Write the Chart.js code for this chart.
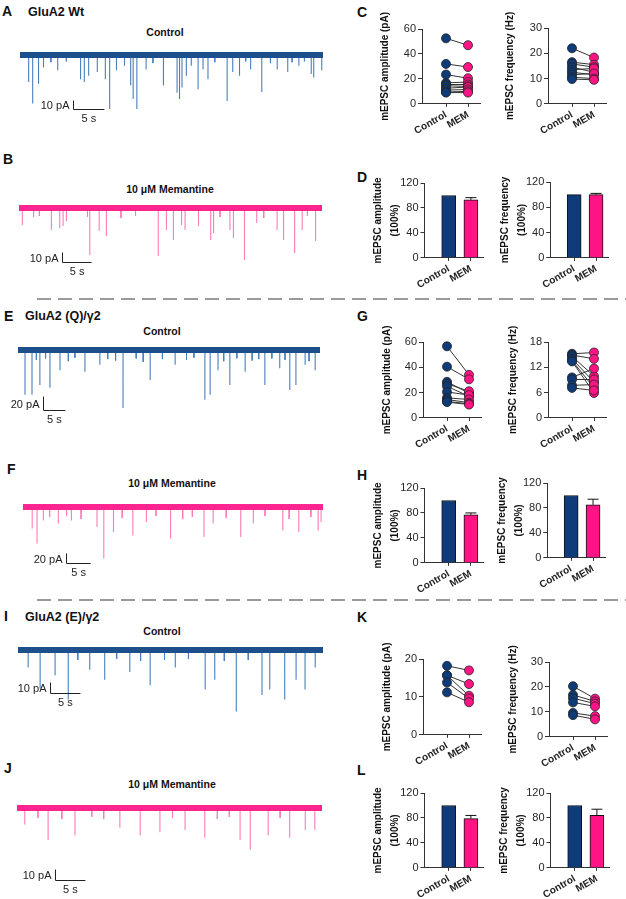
<!DOCTYPE html>
<html>
<head>
<meta charset="utf-8">
<script src="https://cdn.jsdelivr.net/npm/chart.js@4.4.0/dist/chart.umd.min.js"></script>
<style>
  html, body { margin: 0; padding: 0; background: #fff; }
  #page { position: relative; width: 626px; height: 899px; overflow: hidden;
          font-family: Arial, "Liberation Sans", sans-serif; color: #111; }
  .lbl { position: absolute; font-weight: bold; white-space: nowrap; line-height: 1; }
  .letter { font-size: 14px; }
  .head { font-size: 12.5px; }
  .sub { font-size: 10.5px; transform: translateX(-50%); }
  .dash { position: absolute; left: 37px; width: 589px; height: 2px;
          background: repeating-linear-gradient(90deg, #9a9a9a 0 14px, transparent 14px 21px); }
  .box { position: absolute; }
  .box canvas { display: block; }
</style>
</head>
<body>
<div id="page">
  <!-- panel letters and headings -->
  <div class="lbl letter" style="left:2px;top:4px">A</div>
  <div class="lbl head" style="left:28px;top:6px">GluA2 Wt</div>
  <div class="lbl sub" style="left:165px;top:27px">Control</div>
  <div class="lbl letter" style="left:3px;top:152px">B</div>
  <div class="lbl sub" style="left:170px;top:184px">10 μM Memantine</div>
  <div class="lbl letter" style="left:357px;top:5px">C</div>
  <div class="lbl letter" style="left:357px;top:170px">D</div>

  <div class="dash" style="top:298px"></div>

  <div class="lbl letter" style="left:4px;top:309px">E</div>
  <div class="lbl head" style="left:25px;top:310px">GluA2 (Q)/γ2</div>
  <div class="lbl sub" style="left:162px;top:326px">Control</div>
  <div class="lbl letter" style="left:357px;top:309px">G</div>
  <div class="lbl letter" style="left:7px;top:462px">F</div>
  <div class="lbl sub" style="left:172px;top:478px">10 μM Memantine</div>
  <div class="lbl letter" style="left:357px;top:468px">H</div>

  <div class="dash" style="top:599px"></div>

  <div class="lbl letter" style="left:4px;top:609px">I</div>
  <div class="lbl head" style="left:25px;top:611px">GluA2 (E)/γ2</div>
  <div class="lbl sub" style="left:162px;top:626px">Control</div>
  <div class="lbl letter" style="left:357px;top:610px">K</div>
  <div class="lbl letter" style="left:4px;top:761px">J</div>
  <div class="lbl sub" style="left:172px;top:779px">10 μM Memantine</div>
  <div class="lbl letter" style="left:357px;top:763px">L</div>

  <!-- traces -->
  <div class="box" id="trA"><canvas></canvas></div>
  <div class="box" id="trB"><canvas></canvas></div>
  <div class="box" id="trE"><canvas></canvas></div>
  <div class="box" id="trF"><canvas></canvas></div>
  <div class="box" id="trI"><canvas></canvas></div>
  <div class="box" id="trJ"><canvas></canvas></div>

  <!-- summary plots -->
  <div class="box" id="cAmp"><canvas width="140" height="150"></canvas></div>
  <div class="box" id="cFreq"><canvas width="140" height="150"></canvas></div>
  <div class="box" id="dAmp"><canvas width="140" height="150"></canvas></div>
  <div class="box" id="dFreq"><canvas width="140" height="150"></canvas></div>
  <div class="box" id="gAmp"><canvas width="140" height="150"></canvas></div>
  <div class="box" id="gFreq"><canvas width="140" height="150"></canvas></div>
  <div class="box" id="hAmp"><canvas width="140" height="150"></canvas></div>
  <div class="box" id="hFreq"><canvas width="140" height="150"></canvas></div>
  <div class="box" id="kAmp"><canvas width="140" height="150"></canvas></div>
  <div class="box" id="kFreq"><canvas width="140" height="150"></canvas></div>
  <div class="box" id="lAmp"><canvas width="140" height="150"></canvas></div>
  <div class="box" id="lFreq"><canvas width="140" height="150"></canvas></div>
</div>

<script>
// ---------- data ----------
const groups = ['Control', 'MEM'];

// C: GluA2 Wt, per cell
const ampCtrlC  = [52.5, 32, 23.5, 16.8, 15.5, 14.5, 12.5, 11, 9.5, 9];
const ampMemC   = [47, 29.5, 20.5, 17.5, 15.5, 14, 13.5, 11.5, 10, 9];
const freqCtrlC = [22, 16.5, 15.8, 14.5, 13.5, 12.5, 11.5, 10.5, 9.8];
const freqMemC  = [18.3, 15.5, 14.5, 12.5, 14, 11.5, 12, 10, 9.5];
// D: normalised (%), mean and SEM
const ampPctD  = [100, 93];   const ampSemD  = [0, 3.5];
const freqPctD = [100, 100];  const freqSemD = [0, 2];

// G: GluA2 (Q)/γ2
const ampCtrlG  = [56.6, 40.5, 28.5, 27, 25, 20.5, 15.8, 14.5, 13, 12.5];
const ampMemG   = [34, 30.5, 19.5, 21, 17, 18, 14.5, 12, 11, 10.5];
const freqCtrlG = [15.2, 14.9, 14.6, 14.0, 13.6, 13.4, 9.6, 9.1, 7.7, 7.1];
const freqMemG  = [15.5, 14.0, 9.9, 8.5, 7.1, 5.9, 11.7, 9.1, 7.9, 6.5];
// H
const ampPctH  = [100, 77];  const ampSemH  = [0, 3];
const freqPctH = [100, 85];  const freqSemH = [0, 9];

// K: GluA2 (E)/γ2
const ampCtrlK  = [18.2, 15.7, 15.7, 13.8, 11.2];
const ampMemK   = [17.0, 13.4, 10.3, 9.6, 8.6];
const freqCtrlK = [20.3, 16.8, 15.5, 13.8, 9.6, 8.7];
const freqMemK  = [15.3, 14.2, 13.3, 12.2, 8.3, 7.0];
// L
const ampPctL  = [100, 79];  const ampSemL  = [0, 5];
const freqPctL = [100, 84];  const freqSemL = [0, 10];

// traces: event times (s) and peak amplitudes (pA); small events listed separately
const trA_t  = [1.4, 2.05, 3.0, 3.8, 6.1, 9.8, 10.4, 11.1, 12.5, 13.8, 14.5, 15.6, 16.9, 17.9, 18.3, 18.9, 20.4, 23.2, 25.4, 25.8, 26.2, 26.9, 27.7, 28.8, 29.6, 30.4, 33.5, 34.4, 35.5, 37.3, 39.1, 41.6, 43.3, 45.1, 47.1, 47.5, 48.8];
const trA_pA = [30, 54, 32, 14, 17, 27, 30, 23, 19, 27, 60, 17, 12, 34, 49, 60, 16, 34, 42, 49, 36, 23, 12, 38, 16, 27, 51, 19, 23, 16, 41, 16, 19, 12, 21, 25, 17];
const trA_smallT  = [5.0, 7.5, 21.5, 31.5, 36.5, 40.5, 44.0, 46.0];
const trA_smallPA = [8, 7, 9, 8, 7, 9, 8, 7];

const trB_t  = [0.57, 5.56, 6.99, 7.57, 8.14, 11.75, 12.15, 13.76, 15.0, 23.9, 25.3, 26.5, 27.9, 28.5, 30.8, 32.9, 33.4, 36.2, 36.8, 38.7, 40.8, 44.3, 45.4, 47.3, 48.6, 50.9];
const trB_pA = [17, 22, 20, 18, 13, 9, 47, 23, 28, 48, 22, 32, 17, 22, 18, 32, 25, 22, 30, 52, 15, 22, 32, 45, 22, 33];
const trB_smallT  = [2.5, 3.5, 17.5, 20.0, 34.5, 42.0, 49.5];
const trB_smallPA = [9, 8, 10, 8, 9, 10, 8];

const trE_t  = [1.6, 3.2, 5.0, 7.3, 9.6, 15.3, 18.7, 24.0, 30.2, 35.9, 42.7, 43.9, 45.7, 48.4, 51.9, 56.4, 59.8, 62.1, 63.5, 65.6, 67.9];
const trE_pA = [64, 64, 50, 54, 29, 31, 21, 83, 43, 21, 71, 64, 29, 50, 31, 50, 26, 57, 50, 21, 29];
const trE_smallT  = [4.2, 6.3, 11.5, 13.0, 20.5, 22.3, 27.0, 28.6, 33.0, 38.5, 40.2, 47.0, 50.0, 53.5, 55.0, 58.0, 61.0, 66.5];
const trE_smallPA = [14, 12, 16, 11, 13, 15, 12, 17, 13, 14, 11, 16, 12, 15, 13, 12, 14, 16];

const trF_t  = [1.9, 2.9, 4.2, 7.3, 10.0, 15.3, 16.7, 18.7, 22.7, 25.5, 30.5, 37.4, 39.3, 45.0, 47.6, 53.7, 57.0, 61.0, 61.6];
const trF_pA = [43, 73, 27, 33, 27, 40, 103, 50, 57, 30, 63, 60, 33, 60, 33, 47, 50, 47, 30];
const trF_smallT  = [5.5, 9.0, 12.0, 20.5, 27.5, 33.0, 35.0, 42.0, 50.0, 55.0, 59.5];
const trF_smallPA = [20, 18, 24, 22, 18, 24, 20, 22, 18, 24, 20];

const trI_t  = [1.7, 3.7, 6.2, 8.4, 12.0, 14.5, 18.7, 22.1, 26.3, 31.3, 32.9, 36.5, 40.8, 42.1, 44.6, 46.5, 48.0, 49.7];
const trI_pA = [16, 35, 23, 45, 18, 27, 20, 32, 16, 36, 27, 56, 41, 36, 45, 27, 36, 16];
const trI_smallT  = [10.0, 16.5, 20.5, 24.5, 28.5, 34.5, 38.5];
const trI_smallPA = [9, 8, 10, 9, 8, 10, 9];

const trJ_t  = [1.3, 5.2, 9.7, 17.2, 20.6, 23.9, 28.1, 31.4, 37.3, 39.0, 42.0, 45.6, 48.2, 49.8];
const trJ_pA = [15, 29, 25, 18, 25, 22, 20, 27, 29, 38, 25, 27, 20, 20];
const trJ_smallT  = [3.5, 7.5, 12.5, 14.5, 26.0, 33.5, 35.5, 44.0];
const trJ_smallPA = [9, 10, 8, 10, 9, 10, 8, 9];

// ---------- styles / layout ----------
const FONT = 'Arial, "Liberation Sans", sans-serif';
const NAVY = '#0f3c79';
const PINK = '#ff1485';
const BLUE_LINE = '#1d4f8d', BLUE_SPIKE = '#4a7fbd';
const PINK_LINE = '#ff2590', PINK_SPIKE = '#ff7cb9';
const AXIS_LEN = 58;                 // px length of the x axis
const X_MIN = -24 / 22, X_MAX = 34 / 22;
const TICK_PAD = 2, TICK_LEN = 4;

Chart.defaults.font.family = FONT;
Chart.defaults.animation = false;

const traceLayout = {
  trA: {top: 40, height: 86, x0: 20, x1: 323, base: 55, pxPerPA: 0.9, T: 49, bar: {x: 73, y: 109, pA: 10, s: 5}, line: BLUE_LINE, spike: BLUE_SPIKE},
  trB: {top: 195, height: 84, x0: 19, x1: 322, base: 208, pxPerPA: 1.0, T: 52, bar: {x: 62, y: 262, pA: 10, s: 5}, line: PINK_LINE, spike: PINK_SPIKE},
  trE: {top: 338, height: 86, x0: 18, x1: 320, base: 350, pxPerPA: 0.7, T: 69, bar: {x: 43, y: 410, pA: 20, s: 5}, line: BLUE_LINE, spike: BLUE_SPIKE},
  trF: {top: 494, height: 86, x0: 23, x1: 323, base: 507, pxPerPA: 0.5, T: 62, bar: {x: 66, y: 563, pA: 20, s: 5}, line: PINK_LINE, spike: PINK_SPIKE},
  trI: {top: 636, height: 78, x0: 18, x1: 323, base: 650, pxPerPA: 1.1, T: 51, bar: {x: 50, y: 693, pA: 10, s: 5}, line: BLUE_LINE, spike: BLUE_SPIKE},
  trJ: {top: 796, height: 100, x0: 17, x1: 322, base: 808, pxPerPA: 1.1, T: 51, bar: {x: 55, y: 880, pA: 10, s: 5}, line: PINK_LINE, spike: PINK_SPIKE}
};

// ---------- plugins ----------
const scaleBar = {
  id: 'scaleBar',
  afterDraw(chart, args, o) {
    if (!o || o.pA === undefined) return;
    const {ctx, scales: {x, y}} = chart;
    const w = x.getPixelForValue(o.s) - x.getPixelForValue(0);
    const h = y.getPixelForValue(0) - y.getPixelForValue(o.pA);
    const cx = o.cx + 0.5, cy = o.cy + 0.5;
    ctx.save();
    ctx.strokeStyle = '#222';
    ctx.lineWidth = 1;
    ctx.beginPath();
    ctx.moveTo(cx, cy - h);
    ctx.lineTo(cx, cy);
    ctx.lineTo(cx + w, cy);
    ctx.stroke();
    ctx.fillStyle = '#222';
    ctx.font = '11px ' + FONT;
    ctx.textBaseline = 'middle';
    ctx.textAlign = 'right';
    ctx.fillText(o.pA + ' pA', cx - 4, cy - h / 2 + 1);
    ctx.textAlign = 'center';
    ctx.fillText(o.s + ' s', cx + w / 2, cy + 9);
    ctx.restore();
  }
};

const errBars = {
  id: 'errBars',
  afterDatasetsDraw(chart) {
    const {ctx} = chart;
    chart.data.datasets.forEach((ds, di) => {
      if (!ds.errors) return;
      chart.getDatasetMeta(di).data.forEach((bar, i) => {
        const e = ds.errors[i];
        if (!e) return;
        const y1 = chart.scales.y.getPixelForValue(ds.data[i].y + e);
        ctx.save();
        ctx.strokeStyle = '#111';
        ctx.lineWidth = 1;
        ctx.beginPath();
        ctx.moveTo(bar.x, bar.y);
        ctx.lineTo(bar.x, y1);
        ctx.moveTo(bar.x - 5.5, y1);
        ctx.lineTo(bar.x + 5.5, y1);
        ctx.stroke();
        ctx.restore();
      });
    });
  }
};

// ---------- traces ----------
function spikePoints(times, amps) {
  const pts = [];
  times.forEach((t, i) => {
    pts.push({x: t, y: 0}, {x: t, y: -amps[i]}, {x: t, y: null});
  });
  return pts;
}

function traceChart(id, times, amps, smallT, smallA) {
  const L = traceLayout[id];
  const box = document.getElementById(id);
  const canvas = box.querySelector('canvas');
  const W = 330;
  canvas.width = W;
  canvas.height = L.height;
  box.style.left = '0px';
  box.style.top = L.top + 'px';
  const span = L.x1 - L.x0;
  new Chart(canvas, {
    type: 'scatter',
    data: {
      datasets: [
        {data: [{x: 0, y: 0}, {x: L.T, y: 0}], showLine: true, borderColor: L.line, borderWidth: 6, pointRadius: 0},
        {data: spikePoints(times, amps), showLine: true, spanGaps: false, borderColor: L.spike, borderWidth: 1.1, pointRadius: 0},
        {data: spikePoints(smallT, smallA), showLine: true, spanGaps: false, borderColor: L.spike, borderWidth: 1, pointRadius: 0}
      ]
    },
    options: {
      responsive: false,
      events: [],
      layout: {padding: 0},
      plugins: {
        legend: {display: false},
        tooltip: {enabled: false},
        scaleBar: {cx: L.bar.x, cy: L.bar.y - L.top, pA: L.bar.pA, s: L.bar.s}
      },
      scales: {
        x: {type: 'linear', display: false, min: -L.x0 / span * L.T, max: (W - L.x0) / span * L.T},
        y: {display: false, min: -(L.top + L.height - L.base) / L.pxPerPA, max: (L.base - L.top) / L.pxPerPA}
      }
    },
    plugins: [scaleBar]
  });
}

traceChart('trA', trA_t, trA_pA, trA_smallT, trA_smallPA);
traceChart('trB', trB_t, trB_pA, trB_smallT, trB_smallPA);
traceChart('trE', trE_t, trE_pA, trE_smallT, trE_smallPA);
traceChart('trF', trF_t, trF_pA, trF_smallT, trF_smallPA);
traceChart('trI', trI_t, trI_pA, trI_smallT, trI_smallPA);
traceChart('trJ', trJ_t, trJ_pA, trJ_smallT, trJ_smallPA);

// ---------- summary plots ----------
function labelWidth(text) {
  const c = document.createElement('canvas').getContext('2d');
  c.font = '11px ' + FONT;
  return c.measureText(text).width;
}

function axesFor(yMax, step, title, gap) {
  const lines = Array.isArray(title) ? title.length : 1;
  const lh = lines > 1 ? 16.5 : 12;
  // distance from axis line to the first title line -> title bottom padding
  const padBottom = gap - (lines - 0.5) * lh - labelWidth(String(yMax)) - 2 * TICK_PAD - TICK_LEN;
  return {
    x: {
      type: 'linear', min: X_MIN, max: X_MAX, offset: false,
      afterBuildTicks: s => { s.ticks = groups.map((g, i) => ({value: i})); },
      ticks: {
        callback: v => groups[v], autoSkip: false, minRotation: 30, maxRotation: 30, padding: 2,
        color: '#222', font: {size: 10, weight: 'bold'}
      },
      grid: {drawOnChartArea: false, drawTicks: true, tickLength: 3, color: '#333', offset: false},
      border: {display: true, color: '#333', width: 1}
    },
    y: {
      min: 0, max: yMax,
      ticks: {stepSize: step, padding: TICK_PAD, color: '#262626', font: {size: 11}},
      grid: {drawOnChartArea: false, drawTicks: true, tickLength: TICK_LEN, color: '#333'},
      border: {display: true, color: '#333', width: 1},
      title: {
        display: true, text: title, color: '#111',
        font: {size: 10, weight: 'bold', lineHeight: lh / 10},
        padding: {top: 4, bottom: padBottom}
      }
    }
  };
}

function place(chart, box, axisX, yTop, yBottom) {
  for (let k = 0; k < 3; k++) {
    const a = chart.chartArea;
    const w = Math.round(chart.width + AXIS_LEN - (a.right - a.left));
    const h = Math.round(chart.height + (yBottom - yTop) - (a.bottom - a.top));
    if (w === chart.width && h === chart.height) break;
    chart.resize(w, h);
  }
  const a = chart.chartArea;
  box.style.left = (axisX - a.left) + 'px';
  box.style.top = (yTop - a.top) + 'px';
}

function commonOptions(scales) {
  return {
    responsive: false,
    maintainAspectRatio: false,
    events: [],
    // generous top padding so the rotated axis title is not cut off
    layout: {padding: {top: 24, right: 6, left: 0, bottom: 2}},
    plugins: {legend: {display: false}, tooltip: {enabled: false}},
    scales
  };
}

function pairedChart(id, ctrl, mem, yMax, step, title, gap, axisX, yTop, yBottom) {
  const box = document.getElementById(id);
  const lines = ctrl.map((c, i) => ({
    data: [{x: 0, y: c}, {x: 1, y: mem[i]}],
    showLine: true, borderColor: '#333', borderWidth: 1, pointRadius: 0, order: 2, clip: false
  }));
  const dotStyle = {pointRadius: 4.5, pointBorderColor: '#222', pointBorderWidth: 0.8, clip: false, showLine: false};
  const dots = [
    Object.assign({data: ctrl.map(v => ({x: 0, y: v})), pointBackgroundColor: NAVY, order: 1}, dotStyle),
    Object.assign({data: mem.map(v => ({x: 1, y: v})), pointBackgroundColor: PINK, order: 0}, dotStyle)
  ];
  const chart = new Chart(box.querySelector('canvas'), {
    type: 'scatter',
    data: {datasets: lines.concat(dots)},
    options: commonOptions(axesFor(yMax, step, title, gap))
  });
  place(chart, box, axisX, yTop, yBottom);
}

function barChart(id, vals, sems, title, gap, axisX, yTop, yBottom) {
  const box = document.getElementById(id);
  const chart = new Chart(box.querySelector('canvas'), {
    type: 'bar',
    data: {
      datasets: [{
        data: vals.map((v, i) => ({x: i, y: v})),
        errors: sems,
        backgroundColor: [NAVY, PINK],
        borderColor: '#111', borderWidth: 1, barThickness: 14
      }]
    },
    options: commonOptions(axesFor(120, 40, title, gap)),
    plugins: [errBars]
  });
  place(chart, box, axisX, yTop, yBottom);
}

const AMP_T = 'mEPSC amplitude (pA)';
const FREQ_T = 'mEPSC frequency (Hz)';
const AMP_P = ['mEPSC amplitude', '(100%)'];
const FREQ_P = ['mEPSC frequency', '(100%)'];

pairedChart('cAmp', ampCtrlC, ampMemC, 60, 20, AMP_T, 37, 422, 29, 104);
pairedChart('cFreq', freqCtrlC, freqMemC, 30, 10, FREQ_T, 38, 548, 28, 104);
barChart('dAmp', ampPctD, ampSemD, AMP_P, 47, 424, 183, 258);
barChart('dFreq', freqPctD, freqSemD, FREQ_P, 45, 550, 182, 258);

pairedChart('gAmp', ampCtrlG, ampMemG, 60, 20, AMP_T, 36, 423, 342, 418);
pairedChart('gFreq', freqCtrlG, freqMemG, 18, 6, FREQ_T, 35, 548, 342, 418);
barChart('hAmp', ampPctH, ampSemH, AMP_P, 48.5, 424, 488, 563);
barChart('hFreq', freqPctH, freqSemH, FREQ_P, 45, 547, 483, 558);

pairedChart('kAmp', ampCtrlK, ampMemK, 20, 10, AMP_T, 36, 423, 659, 735);
pairedChart('kFreq', freqCtrlK, freqMemK, 30, 10, FREQ_T, 36, 549, 662, 737);
barChart('lAmp', ampPctL, ampSemL, AMP_P, 49, 424, 793, 868);
barChart('lFreq', freqPctL, freqSemL, FREQ_P, 48, 550, 793, 868);
</script>
</body>
</html>
